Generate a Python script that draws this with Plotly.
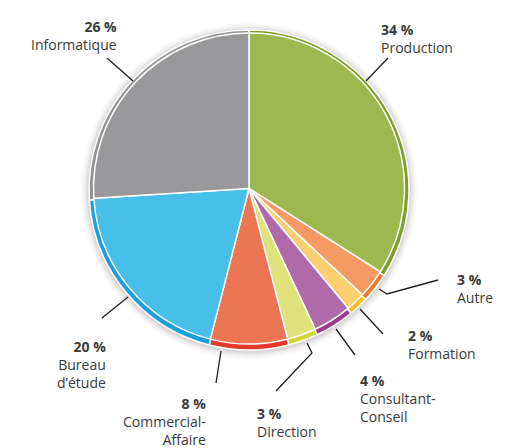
import plotly.graph_objects as go

categories = ["Production", "Autre", "Formation", "Consultant-Conseil", "Direction",
              "Commercial-Affaire", "Bureau d'étude", "Informatique"]
values = [34, 3, 2, 4, 3, 8, 20, 26]
label_names = ["Production", "Autre", "Formation", "Consultant-<br>Conseil", "Direction",
               "Commercial-<br>Affaire", "Bureau<br>d’étude", "Informatique"]
inner_colors = ["#9cb84f", "#f39b62", "#fdcf6e", "#b16aa9", "#dfe27a", "#ec7654", "#47bfe9", "#98989a"]
rim_colors = ["#7e9e2b", "#ee7a30", "#f7be22", "#9a3b8f", "#d2d632", "#e03a2b", "#17a0dc", "#939395"]

W, H = 515, 448
CX, CY, R = 249, 190, 160

def px(x):
    return x / W

def py(y):
    return 1 - y / H

def dom(r, cx=CX, cy=CY):
    return dict(x=[px(cx - r), px(cx + r)], y=[py(cy + r), py(cy - r)])

fig = go.Figure()

# soft shadow halo
for r, a in [(168, 0.03), (166, 0.05), (164, 0.07), (162, 0.09)]:
    fig.add_trace(go.Pie(values=[1], marker=dict(colors=[f"rgba(100,70,80,{a})"], line=dict(width=0)),
                         domain=dom(r, CX, CY + 1), textinfo="none", hoverinfo="skip",
                         showlegend=False, sort=False))

common = dict(labels=categories, values=values, sort=False, direction="clockwise", rotation=0,
              textinfo="none", showlegend=False)
fig.add_trace(go.Pie(marker=dict(colors=rim_colors, line=dict(color="white", width=1.5)),
                     domain=dom(R), **common))
fig.add_trace(go.Pie(marker=dict(colors=inner_colors, line=dict(color="white", width=1.5)),
                     domain=dom(R - 4.5, CX, CY - 1.5), **common))

# label layout (pixel positions of text blocks)
label_pos = [(379, 18, "left"), (455, 268, "left"), (406, 324, "left"), (358, 369, "left"),
             (255, 402, "left"), (208, 392, "right"), (108, 335, "right"), (119, 15, "right")]
leaders = [
    [(388, 58), (366, 81)],
    [(438, 280), (387, 294), (379, 289)],
    [(383, 334), (360, 309)],
    [(355, 355), (336, 329)],
    [(276, 391), (312, 353), (307, 343)],
    [(216, 383), (221, 351)],
    [(102, 318), (128, 297)],
    [(107, 58), (133, 81)],
]

for v, name, (x, y, al) in zip(values, label_names, label_pos):
    fig.add_annotation(x=px(x), y=py(y), xref="paper", yref="paper", xanchor=al, yanchor="top",
                       align=al, showarrow=False,
                       text=f"<b>{v} %</b><br>{name}",
                       font=dict(family="Open Sans", size=14, color="#3a3a3a"))

for pts in leaders:
    path = "M " + " L ".join(f"{px(x)} {py(y)}" for x, y in pts)
    fig.add_shape(type="path", path=path, xref="paper", yref="paper",
                  line=dict(color="#1e1e1e", width=1.3))

fig.update_layout(width=W, height=H, margin=dict(l=0, r=0, t=0, b=0),
                  paper_bgcolor="white", plot_bgcolor="white")
fig.write_html("out.html", config={"displayModeBar": False},
               post_script="document.body.style.margin='0';")
